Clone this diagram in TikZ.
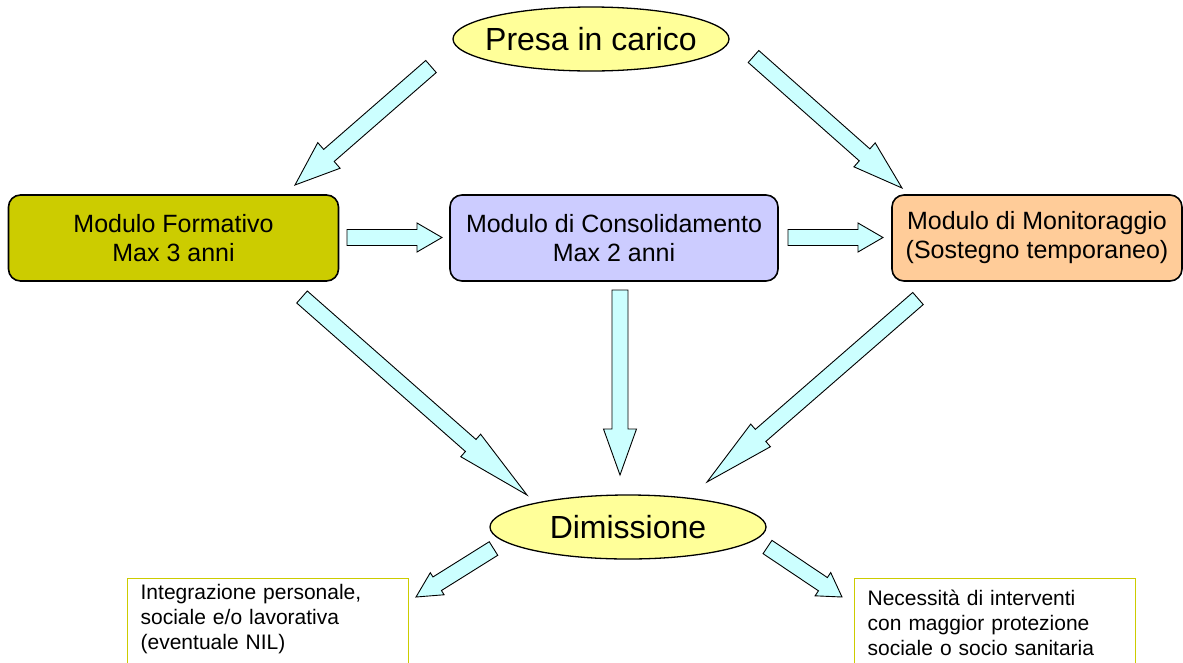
\documentclass[tikz,border=0pt]{standalone}
\usepackage{fontspec}
\setmainfont{Liberation Sans}
\usetikzlibrary{shapes.geometric,calc}

\definecolor{ovalfill}{HTML}{FFFF99}
\definecolor{formfill}{HTML}{CCCC00}
\definecolor{consfill}{HTML}{CCCCFF}
\definecolor{monfill}{HTML}{FFCC99}
\definecolor{arrowfill}{HTML}{CCFFFF}
\definecolor{noteline}{HTML}{CCCC00}

% #1 tail, #2 tip, #3 head length, #4 half width of the head
\newcommand{\blockarrow}[4]{%
	\coordinate (hb) at ($(#2)!#3!(#1)$);
	\draw[bigarrow] ($(#1)!8pt!90:(#2)$) -- ($(hb)!8pt!-90:(#1)$) -- ($(hb)!#4!-90:(#1)$) -- (#2)
		-- ($(hb)!#4!90:(#1)$) -- ($(hb)!8pt!90:(#1)$) -- ($(#1)!8pt!-90:(#2)$) -- cycle;
}
% the note boxes run on past the lower edge of the page
\newcommand{\longtail}{\rule[-40pt]{0pt}{1pt}}

\begin{document}
\begin{tikzpicture}[
		x=1pt, y=-1pt,
		oval/.style={ellipse,draw,line width=1.3pt,fill=ovalfill,inner sep=0pt,
			minimum width=276pt,minimum height=64pt,font=\fontsize{32}{38}\selectfont},
		modulo/.style={rectangle,rounded corners=12pt,draw,line width=1.6pt,
			minimum height=86pt,align=center,font=\fontsize{25}{29}\selectfont},
		nota/.style={rectangle,draw=noteline,line width=1.3pt,anchor=north west,
			align=left,inner xsep=13pt,font=\fontsize{21}{25}\selectfont},
		bigarrow/.style={draw=black,line width=0.9pt,fill=arrowfill,line join=miter}
		]
		\useasboundingbox (0,0) rectangle (1183,662);
		\clip (0,0) rectangle (1183,662);

		\node[oval] (presa) at (591,39) {\makebox[0pt]{Presa in carico}};
		\node[modulo,fill=formfill,minimum width=330pt] (formativo) at (173.5,238)
			{Modulo Formativo\\Max 3 anni};
		\node[modulo,fill=consfill,minimum width=328pt] (consolidamento) at (614,238)
			{Modulo di Consolidamento\\Max 2 anni};
		\node[modulo,fill=monfill,minimum width=290pt] (monitoraggio) at (1037,238)
			{Modulo di Monitoraggio\\(Sostegno temporaneo)};
		\node[oval] (dimissione) at (628,527) {\makebox[0pt]{Dimissione}};
		\node[nota,text width=255pt,inner ysep=6pt] (integrazione) at (127,578)
			{Integrazione personale,\\sociale e/o lavorativa\\(eventuale NIL)\longtail};
		\node[nota,text width=255pt,inner ysep=11pt] (necessita) at (854,578)
			{Necessità di interventi\\con maggior protezione\\sociale o socio sanitaria\longtail};

		\coordinate (pf-s) at (431,66.5);  \coordinate (pf-e) at (295,185);
		\coordinate (pm-s) at (753.5,56.5); \coordinate (pm-e) at (902,188);
		\coordinate (fc-s) at (347,237.5);  \coordinate (fc-e) at (442,237.5);
		\coordinate (cm-s) at (788,237.5);  \coordinate (cm-e) at (883,237.5);
		\coordinate (fd-s) at (302,297);    \coordinate (fd-e) at (527,495);
		\coordinate (cd-s) at (620,290);    \coordinate (cd-e) at (620,475);
		\coordinate (md-s) at (918,298.5);  \coordinate (md-e) at (707,482);
		\coordinate (di-s) at (493.5,548.5); \coordinate (di-e) at (416,597);
		\coordinate (dn-s) at (767.5,547);  \coordinate (dn-e) at (842,597);

		\blockarrow{pf-s}{pf-e}{45pt}{17pt}
		\blockarrow{pm-s}{pm-e}{50pt}{16pt}
		\blockarrow{fc-s}{fc-e}{25pt}{14.5pt}
		\blockarrow{cm-s}{cm-e}{25pt}{14.5pt}
		\blockarrow{fd-s}{fd-e}{75pt}{15pt}
		\blockarrow{cd-s}{cd-e}{46pt}{16.5pt}
		\blockarrow{md-s}{md-e}{71pt}{15pt}
		\blockarrow{di-s}{di-e}{25pt}{13pt}
		\blockarrow{dn-s}{dn-e}{23pt}{14pt}
\end{tikzpicture}
\end{document}
